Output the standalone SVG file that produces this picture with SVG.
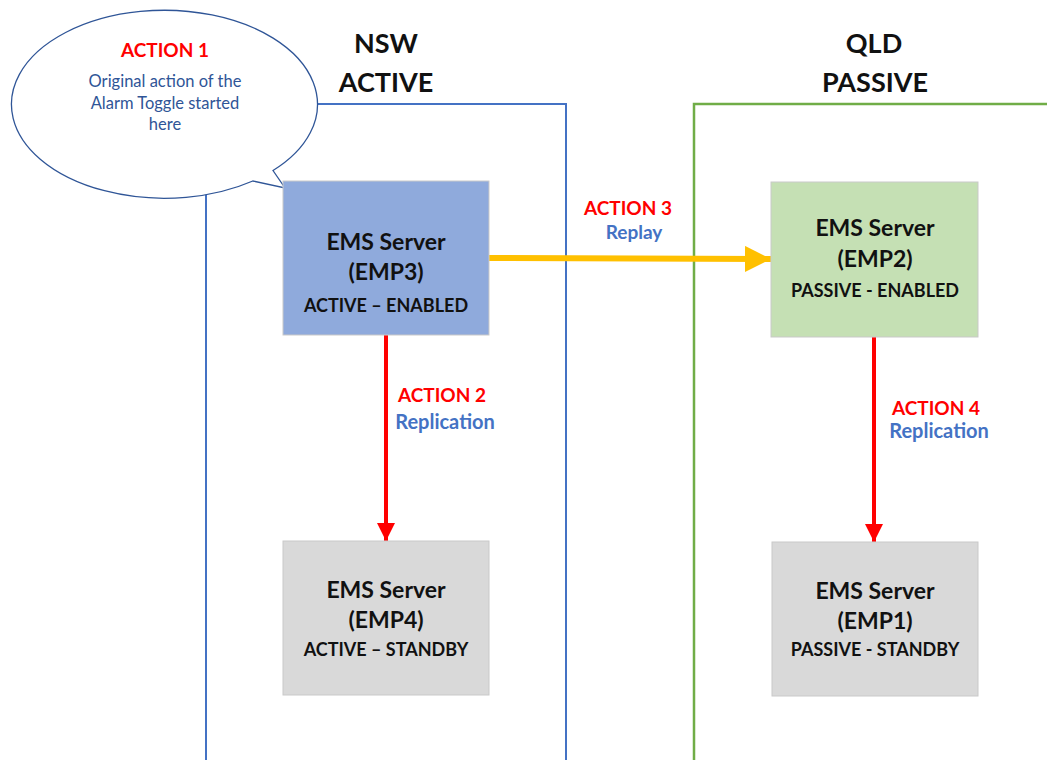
<svg xmlns="http://www.w3.org/2000/svg" width="1047" height="760" viewBox="0 0 1047 760">
<style>
text{font-family:Lato,"Open Sans","Liberation Sans",sans-serif;text-anchor:middle}
.hd{font-size:27px;font-weight:bold;fill:#111}
.t1{font-size:23px;font-weight:bold;fill:#111}
.t2{font-size:18px;font-weight:bold;fill:#111}
.act{font-size:19px;font-weight:bold;fill:#FF0000}
.rep{font-size:20px;font-weight:bold;fill:#4472C4}
.rp{font-size:19px;font-weight:bold;fill:#4472C4}
.body{font-size:16.5px;fill:#2F5597}
.box{stroke:#C9C9C9;stroke-width:1}
</style>
<defs>
<marker id="redHead" markerUnits="userSpaceOnUse" markerWidth="20" markerHeight="18" refX="18" refY="9" orient="auto"><path d="M0,0 L18,9 L0,18 Z" fill="#FF0000"/></marker>
<marker id="yelHead" markerUnits="userSpaceOnUse" markerWidth="28" markerHeight="26" refX="26" refY="13" orient="auto"><path d="M0,0 L26,13 L0,26 Z" fill="#FFC000"/></marker>
</defs>
<rect width="1047" height="760" fill="#FFFFFF"/>
<g id="region-nsw">
<path d="M206,760 V104 H566 V760" fill="none" stroke="#4472C4" stroke-width="2"/>
<text class="hd" x="386" y="53">NSW</text>
<text class="hd" x="386" y="92">ACTIVE</text>
</g>
<g id="region-qld">
<path d="M694,760 V104 H1047" fill="none" stroke="#70AD47" stroke-width="2.5"/>
<text class="hd" x="874" y="53">QLD</text>
<text class="hd" x="875" y="92">PASSIVE</text>
</g>
<g id="callout">
<path d="M252.8,181 A153,94 0 1 1 273,170.5 L285,188 Z" fill="#FFFFFF" stroke="#2F5597" stroke-width="1.3"/>
<text class="act" x="165" y="57">ACTION 1</text>
<text class="body" x="165" y="87">Original action of the</text>
<text class="body" x="165" y="108.5">Alarm Toggle started</text>
<text class="body" x="165" y="130">here</text>
</g>
<g id="connectors">
<line x1="488" y1="258" x2="771" y2="259" stroke="#FFC000" stroke-width="6" stroke-linecap="round" marker-end="url(#yelHead)"/>
<line x1="386" y1="335" x2="386" y2="541" stroke="#FF0000" stroke-width="4" marker-end="url(#redHead)"/>
<line x1="874" y1="337" x2="874" y2="542" stroke="#FF0000" stroke-width="4" marker-end="url(#redHead)"/>
<text class="act" x="628" y="215">ACTION 3</text>
<text class="rp" x="634" y="239">Replay</text>
<text class="act" x="442" y="402">ACTION 2</text>
<text class="rep" x="445" y="429">Replication</text>
<text class="act" x="936" y="415">ACTION 4</text>
<text class="rep" x="939" y="438">Replication</text>
</g>
<g id="emp3">
<rect class="box" x="283" y="181" width="206" height="154" fill="#8FAADC"/>
<text class="t1" x="386" y="250">EMS Server</text>
<text class="t1" x="386" y="280">(EMP3)</text>
<text class="t2" x="386" y="312">ACTIVE – ENABLED</text>
</g>
<g id="emp2">
<rect class="box" x="771" y="182" width="207" height="155" fill="#C5E0B4"/>
<text class="t1" x="875" y="236">EMS Server</text>
<text class="t1" x="875" y="267">(EMP2)</text>
<text class="t2" x="875" y="297">PASSIVE - ENABLED</text>
</g>
<g id="emp4">
<rect class="box" x="283" y="541" width="206" height="154" fill="#D9D9D9"/>
<text class="t1" x="386" y="598">EMS Server</text>
<text class="t1" x="386" y="628">(EMP4)</text>
<text class="t2" x="386" y="656">ACTIVE – STANDBY</text>
</g>
<g id="emp1">
<rect class="box" x="772" y="542" width="206" height="154" fill="#D9D9D9"/>
<text class="t1" x="875" y="599">EMS Server</text>
<text class="t1" x="875" y="629">(EMP1)</text>
<text class="t2" x="875" y="656">PASSIVE - STANDBY</text>
</g>
</svg>
